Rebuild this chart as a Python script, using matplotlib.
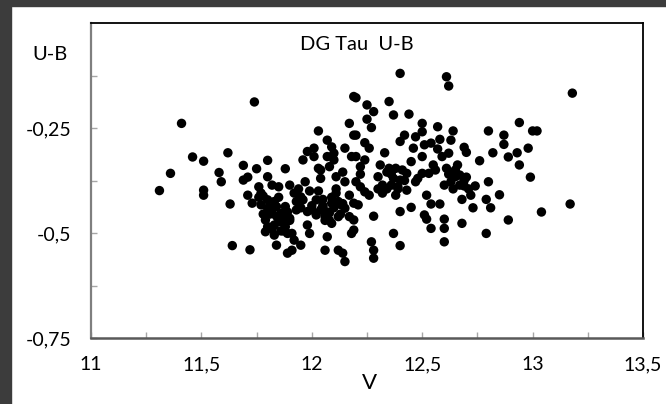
import numpy as np
import matplotlib
matplotlib.use("Agg")
import matplotlib.pyplot as plt
from matplotlib.patches import Rectangle

# data (V, U-B)
v = [11.41, 11.46, 11.51, 11.36, 11.31, 11.51, 11.51, 11.62, 11.58, 11.59,
     11.63, 11.69, 11.69, 11.64, 11.72,
     11.74, 11.75, 11.80, 11.88, 11.71, 11.80, 11.76, 11.77, 11.71, 11.82,
     11.85, 11.90, 11.97, 11.92, 11.95, 11.96, 11.73, 11.77, 11.80, 11.80,
     11.82, 11.84, 11.86, 11.88, 11.79, 11.80, 11.83, 11.79, 11.86, 11.88,
     11.89, 11.91, 11.92, 11.95, 11.91, 11.89, 11.84, 11.98, 11.98, 11.99,
     11.96, 11.98, 12.01, 12.03, 12.01, 12.03, 12.04, 12.07, 12.09, 12.07,
     12.10, 12.08, 12.11, 12.15, 12.17, 12.19, 12.19, 12.18, 12.15, 12.17,
     12.02, 12.05, 12.09, 12.12, 12.15, 12.02, 12.06, 12.09, 12.12, 12.17,
     12.07, 12.06, 12.12, 12.14, 12.15, 12.18,
     12.40, 12.61, 12.62, 12.20, 12.25, 12.28, 12.35, 12.37, 12.44, 12.25,
     12.27, 12.20, 12.24, 12.26, 12.20, 12.24, 12.22, 12.33, 12.31, 12.30,
     12.32, 12.20, 12.22, 12.24, 12.26, 12.32, 12.19, 12.21, 12.19, 12.19,
     12.28, 12.27, 12.28, 12.28, 12.37, 12.40, 12.40, 12.45, 12.40, 12.42,
     12.47, 12.50, 12.50, 12.46, 12.50, 12.54, 12.51, 12.57, 12.58, 12.64,
     12.63, 12.35, 12.38, 12.41, 12.43, 12.37, 12.40, 12.36, 12.39, 12.43,
     12.38, 12.47, 12.50, 12.53, 12.55, 12.52, 12.54, 12.58, 12.51, 12.52,
     12.54, 12.60, 12.60, 12.60, 12.59, 12.62, 12.61, 12.66, 12.67, 12.65,
     12.60, 12.63, 12.67, 12.68, 12.68,
     13.18, 12.94, 12.80, 12.87, 12.87, 13.00, 13.02, 12.69, 12.70, 12.82,
     12.76, 12.89, 12.93, 12.98, 12.94, 12.99, 12.70, 12.74, 12.80, 12.85,
     12.69, 12.72, 12.79, 12.81, 12.73, 12.89, 13.04, 13.17, 12.79,
     11.78, 11.83, 11.87, 11.93, 11.81, 11.85, 11.90, 11.94, 12.00, 12.05,
     12.08, 12.13, 12.04, 12.10, 12.14, 11.87, 11.83, 12.30, 12.34, 12.45,
     12.56, 12.64, 12.71, 12.48, 12.57, 12.03, 12.11, 11.95, 11.76, 12.22,
     11.81, 11.84, 11.87, 11.90, 11.82, 11.86, 11.93, 11.78, 11.85, 11.89,
     12.04, 12.07, 12.10, 12.13, 12.06, 12.09, 12.00, 12.14, 12.11, 12.08,
     12.36, 12.39, 12.42, 12.34, 12.62, 12.65, 12.69, 12.64, 11.99, 12.05]
ub = [-0.239, -0.319, -0.329, -0.358, -0.399, -0.398, -0.410, -0.309, -0.356, -0.378,
      -0.431, -0.339, -0.374, -0.530, -0.540,
      -0.188, -0.347, -0.327, -0.347, -0.367, -0.366, -0.390, -0.405, -0.410, -0.386,
      -0.390, -0.386, -0.378, -0.405, -0.414, -0.421, -0.429, -0.433, -0.421, -0.441,
      -0.453, -0.437, -0.453, -0.437, -0.469, -0.485, -0.481, -0.497, -0.469, -0.485,
      -0.501, -0.501, -0.517, -0.529, -0.541, -0.548, -0.529, -0.449, -0.481, -0.501,
      -0.326, -0.306, -0.298, -0.257, -0.318, -0.346, -0.350, -0.279, -0.295, -0.318,
      -0.326, -0.342, -0.366, -0.298, -0.239, -0.267, -0.175, -0.318, -0.378, -0.410,
      -0.421, -0.437, -0.429, -0.425, -0.441, -0.457, -0.461, -0.477, -0.461, -0.461,
      -0.509, -0.541, -0.541, -0.548, -0.568, -0.501,
      -0.120, -0.128, -0.150, -0.178, -0.195, -0.211, -0.187, -0.219, -0.217, -0.229,
      -0.249, -0.267, -0.285, -0.298, -0.318, -0.326, -0.342, -0.309, -0.338, -0.366,
      -0.386, -0.378, -0.390, -0.402, -0.410, -0.405, -0.429, -0.433, -0.469, -0.493,
      -0.460, -0.521, -0.541, -0.560, -0.501, -0.530, -0.449, -0.439, -0.282, -0.267,
      -0.271, -0.239, -0.259, -0.298, -0.318, -0.286, -0.290, -0.247, -0.277, -0.257,
      -0.279, -0.346, -0.346, -0.350, -0.358, -0.370, -0.374, -0.386, -0.390, -0.398,
      -0.410, -0.378, -0.358, -0.358, -0.338, -0.410, -0.431, -0.431, -0.457, -0.467,
      -0.489, -0.467, -0.489, -0.521, -0.318, -0.310, -0.346, -0.338, -0.362, -0.366,
      -0.386, -0.378, -0.386, -0.420, -0.477,
      -0.167, -0.237, -0.257, -0.267, -0.289, -0.257, -0.257, -0.296, -0.308, -0.309,
      -0.328, -0.319, -0.309, -0.298, -0.338, -0.367, -0.367, -0.388, -0.378, -0.409,
      -0.388, -0.410, -0.420, -0.440, -0.440, -0.469, -0.450, -0.431, -0.501,
      -0.412, -0.425, -0.462, -0.445, -0.455, -0.473, -0.470, -0.395, -0.445, -0.420,
      -0.452, -0.432, -0.370, -0.310, -0.355, -0.495, -0.505, -0.395, -0.355, -0.330,
      -0.350, -0.360, -0.395, -0.370, -0.300, -0.400, -0.395, -0.440, -0.415, -0.360,
      -0.440, -0.460, -0.475, -0.465, -0.490, -0.495, -0.425, -0.455, -0.415, -0.450,
      -0.445, -0.450, -0.440, -0.455, -0.470, -0.415, -0.435, -0.430, -0.405, -0.470,
      -0.360, -0.395, -0.375, -0.395, -0.360, -0.350, -0.375, -0.395, -0.400, -0.435]

x_ticks = [11, 11.5, 12, 12.5, 13, 13.5]
x_labels = ["11", "11,5", "12", "12,5", "13", "13,5"]
y_ticks = [-0.75, -0.5, -0.25]
y_labels = ["-0,75", "-0,5", "-0,25"]

plt.rcParams['font.family'] = ['Lato', 'DejaVu Sans']

fig = plt.figure(figsize=(6.66, 4.04), dpi=100)
fig.patch.set_facecolor("white")
# dark frame strips at top and left
fig.patches.append(Rectangle((0, 0), 11/666, 1, transform=fig.transFigure,
                             color="#3c3c3c", zorder=0))
fig.patches.append(Rectangle((0, 1 - 6/404), 1, 6/404, transform=fig.transFigure,
                             color="#3c3c3c", zorder=0))

ax = fig.add_axes([91/666, 66/404, 552/666, 315/404])
ax.scatter(v, ub, s=46, color="black", edgecolors="none", zorder=3)

ax.set_xlim(11, 13.5)
ax.set_ylim(-0.75, 0)
ax.set_xticks(x_ticks)
ax.set_xticklabels(x_labels)
ax.set_xticks([11.25, 11.75, 12.25, 12.75, 13.25], minor=True)
ax.set_yticks(y_ticks)
ax.set_yticklabels(y_labels)
ax.set_yticks([-0.625, -0.375, -0.125], minor=True)

ax.tick_params(which="both", direction="in", length=4.5, width=1, color="#a6a6a6")
ax.tick_params(axis="x", which="major", pad=13, labelsize=14)
ax.tick_params(axis="y", which="major", pad=14, labelsize=14)

ax.spines["left"].set_color("#7f7f7f")
ax.spines["left"].set_linewidth(1.6)
ax.spines["bottom"].set_color("#595959")
ax.spines["bottom"].set_linewidth(1.8)
ax.spines["top"].set_color("black")
ax.spines["top"].set_linewidth(1.3)
ax.spines["right"].set_color("black")
ax.spines["right"].set_linewidth(1.3)

fig.text(357/666, 1 - 45/404, "DG Tau  U-B", ha="center", va="center", fontsize=14.5)
fig.text(50/666, 1 - 55/404, "U-B", ha="center", va="center", fontsize=14.5)
fig.text(370/666, 1 - 383/404, "V", ha="center", va="center", fontsize=16)

fig.savefig("out.png", dpi=100)
